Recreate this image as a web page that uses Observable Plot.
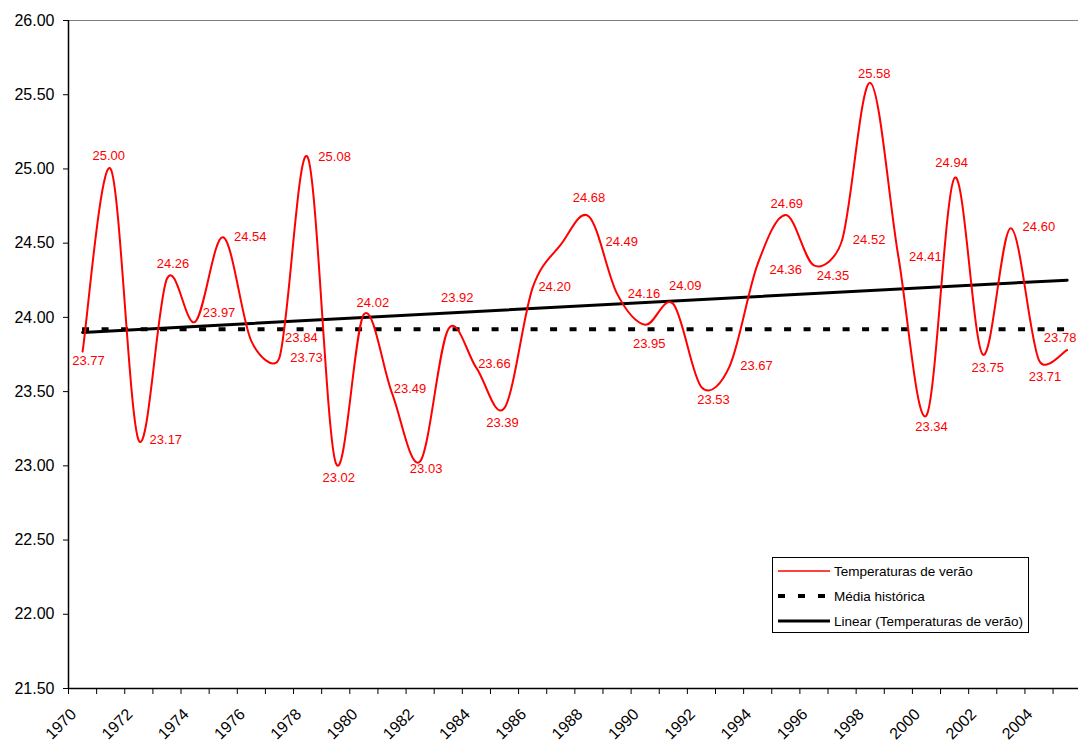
<!DOCTYPE html>
<html>
<head>
<meta charset="utf-8">
<script src="https://cdn.jsdelivr.net/npm/d3@7"></script>
<script src="https://cdn.jsdelivr.net/npm/@observablehq/plot@0.6"></script>
<style>
  body { margin: 0; background: #fff; font-family: "Liberation Sans", Arial, sans-serif; overflow: hidden; }
  #wrap { position: relative; width: 1078px; height: 742px; overflow: hidden; }
  #legend { position: absolute; left: 772px; top: 557px; width: 257px; height: 76px;
            border: 1px solid #000; background: #fff; box-sizing: border-box; }
  #legend .row { position: absolute; left: 5px; height: 20px; display: flex; align-items: center;
                 font-size: 13.5px; color: #000; white-space: nowrap; }
  #legend svg { margin-right: 2px; }
</style>
</head>
<body>
<div id="wrap"></div>
<script>
// ---- data ----
const years = [1970,1971,1972,1973,1974,1975,1976,1977,1978,1979,1980,1981,1982,1983,1984,1985,1986,1987,
               1988,1989,1990,1991,1992,1993,1994,1995,1996,1997,1998,1999,2000,2001,2002,2003,2004,2005];
const temperaturas = [23.77,25.00,23.17,24.26,23.97,24.54,23.84,23.73,25.08,23.02,24.02,23.49,23.03,23.92,23.66,23.39,24.20,24.49,
                      24.68,24.16,23.95,24.09,23.53,23.67,24.36,24.69,24.35,24.52,25.58,24.41,23.34,24.94,23.75,24.60,23.71,23.78];
const mediaHistorica = 23.92;
const yTicks = [21.5,22,22.5,23,23.5,24,24.5,25,25.5,26];
const xTickLabels = [1970,1972,1974,1976,1978,1980,1982,1984,1986,1988,1990,1992,1994,1996,1998,2000,2002,2004];
const seriesNames = ["Temperaturas de verão", "Média histórica", "Linear (Temperaturas de verão)"];
// label placement nudges (pixels, relative to each point)
const labelNudge = [[6,9],[-2,-13],[27,-1],[6,-15],[24,-9],[27,0],[50,-3],[27,0],[27,0],[3,15],
                    [9,-12],[18,-4],[6,7],[9,-31],[18,-4],[-2,15],[22,-1],[61,-3],[0,-19],[27,0],
                    [4,19],[12,-18],[12,13],[27,-1],[28,6],[1,-11],[19,10],[27,0],[4,-9],[27,0],
                    [5,11],[-3,-15],[5,13],[28,-1],[6,16],[-7,-12]];

// Spreadsheet-style smoothed line: Bezier with Catmull-Rom tangents, arms capped by half the segment
function SmoothCurve(context) { this._context = context; }
SmoothCurve.prototype = {
  areaStart() { this._line = 0; },
  areaEnd() { this._line = NaN; },
  lineStart() { this._x = []; this._y = []; },
  lineEnd() {
    const x = this._x, y = this._y, n = x.length, c = this._context;
    if (n) {
      this._line ? c.lineTo(x[0], y[0]) : c.moveTo(x[0], y[0]);
      for (let i = 0; i < n - 1; i++) {
        const i0 = Math.max(0, i - 1), i3 = Math.min(n - 1, i + 2);
        let ax = (x[i + 1] - x[i0]) / 6, ay = (y[i + 1] - y[i0]) / 6;
        let bx = (x[i3] - x[i]) / 6, by = (y[i3] - y[i]) / 6;
        const cap = Math.hypot(x[i + 1] - x[i], y[i + 1] - y[i]) / 2;
        const la = Math.hypot(ax, ay), lb = Math.hypot(bx, by);
        if (la > cap) { ax *= cap / la; ay *= cap / la; }
        if (lb > cap) { bx *= cap / lb; by *= cap / lb; }
        c.bezierCurveTo(x[i] + ax, y[i] + ay, x[i + 1] - bx, y[i + 1] - by, x[i + 1], y[i + 1]);
      }
    }
    if (this._line || (this._line !== 0 && n === 1)) c.closePath();
    this._line = 1 - this._line;
  },
  point(x, y) { this._x.push(+x); this._y.push(+y); }
};
const smoothCurve = context => new SmoothCurve(context);

const data = years.map((year, i) => ({year, temp: temperaturas[i]}));
const x0 = years[0] - 0.5, x1 = years[years.length - 1] + 0.5;
const boundaries = d3.range(years.length + 1).map(i => x0 + i);
const RED = "#ff0000";

const labelMarks = data.map((d, i) => Plot.text([d], {
  x: "year", y: "temp", text: v => d3.format(".2f")(v.temp),
  dx: labelNudge[i][0], dy: labelNudge[i][1],
  fill: RED, fontSize: 13, textAnchor: "middle"
}));

const chart = Plot.plot({
  width: 1078, height: 742,
  marginLeft: 68, marginRight: 0, marginTop: 20, marginBottom: 54,
  style: {fontFamily: "'Liberation Sans', Arial, sans-serif", background: "#fff", color: "#000", overflow: "visible"},
  x: {domain: [x0, x1], range: [68, 1080.7]},
  y: {domain: [yTicks[0], yTicks[yTicks.length - 1]]},
  marks: [
    Plot.ruleY([yTicks[yTicks.length - 1]], {x1: x0, x2: x1, stroke: "#808080", strokeWidth: 1}),
    Plot.axisY({ticks: yTicks, tickFormat: d3.format(".2f"), tickSize: 5, tickPadding: 9, fontSize: 16, label: null, stroke: "#000"}),
    Plot.axisX({ticks: boundaries, tickFormat: () => "", tickSize: 6, label: null, stroke: "#000"}),
    Plot.text(xTickLabels, {x: d => d, text: d => String(d), frameAnchor: "bottom", rotate: -45,
                            textAnchor: "end", lineAnchor: "middle", dx: -9, dy: 23, fontSize: 16, fill: "#000"}),
    Plot.ruleX([x0], {stroke: "#000", strokeWidth: 1.5}),
    Plot.ruleY([yTicks[0]], {x1: x0, x2: x1, stroke: "#000", strokeWidth: 1.5}),
    Plot.ruleY([mediaHistorica], {x1: years[0], x2: years[years.length - 1], stroke: "#000", strokeWidth: 4, strokeDasharray: "7,12.5"}),
    Plot.linearRegressionY(data, {x: "year", y: "temp", stroke: "#000", strokeWidth: 3, ci: 0}),
    Plot.line(data, {x: "year", y: "temp", stroke: RED, strokeWidth: 2, curve: smoothCurve}),
    ...labelMarks
  ]
});

const wrap = document.getElementById("wrap");
wrap.appendChild(chart);

// legend
const legend = document.createElement("div");
legend.id = "legend";
const samples = [
  `<line x1="0" y1="5" x2="52" y2="5" stroke="${RED}" stroke-width="1.5"/>`,
  `<line x1="0" y1="5" x2="52" y2="5" stroke="#000" stroke-width="4" stroke-dasharray="7,13"/>`,
  `<line x1="0" y1="5" x2="52" y2="5" stroke="#000" stroke-width="3"/>`
];
seriesNames.forEach((name, i) => {
  const row = document.createElement("div");
  row.className = "row";
  row.style.top = (3 + i * 25) + "px";
  row.innerHTML = `<svg width="54" height="10">${samples[i]}</svg><span>${name}</span>`;
  legend.appendChild(row);
});
wrap.appendChild(legend);
</script>
</body>
</html>
